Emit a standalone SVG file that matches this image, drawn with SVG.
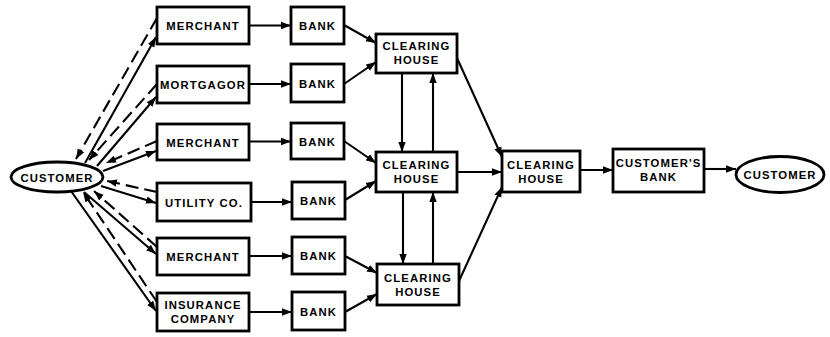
<svg xmlns="http://www.w3.org/2000/svg" width="830" height="337" viewBox="0 0 830 337">
  <style>
    .box { fill: #fff; stroke: #000; stroke-width: 2.8; }
    .lbl { font-family: "Liberation Sans", Arial, sans-serif; font-weight: bold; font-size: 11.3px; letter-spacing: 1.1px; fill: #000; text-anchor: middle; dominant-baseline: central; }
    .ln { fill: none; stroke: #000; stroke-width: 2.1; marker-end: url(#ah); }
    .dash { fill: none; stroke: #000; stroke-width: 2.1; stroke-dasharray: 13 6; marker-end: url(#ah); }
  </style>
  <defs>
    <marker id="ah" markerUnits="userSpaceOnUse" markerWidth="11" markerHeight="9" refX="10" refY="4.5" orient="auto">
      <path d="M0,0.8 L10,4.5 L0,8.2 Z" fill="#000"/>
    </marker>
  </defs>
  <rect width="830" height="337" fill="#fff"/>

  <g id="connectors">
    <!-- customer to payees (solid) and back (dashed) -->
    <path class="dash" d="M157,18 L76,159"/>
    <path class="ln" d="M85,163 L156,37"/>
    <path class="dash" d="M157,84 L89,160"/>
    <path class="ln" d="M97,166 L156,97"/>
    <path class="dash" d="M157,141 L106,163"/>
    <path class="ln" d="M103,171 L156,151"/>
    <path class="dash" d="M157,192 L107,181"/>
    <path class="ln" d="M101,186 L156,203"/>
    <path class="dash" d="M157,247 L94,191"/>
    <path class="ln" d="M84,192 L156,254"/>
    <path class="dash" d="M157,302 L83,192"/>
    <path class="ln" d="M71,191 L156,311"/>
    <!-- payees to banks -->
    <path class="ln" d="M249,25.5 L291,25.5"/>
    <path class="ln" d="M249,84 L291,84"/>
    <path class="ln" d="M249,141.5 L291,141.5"/>
    <path class="ln" d="M251,202 L292,202"/>
    <path class="ln" d="M249,256 L292,256"/>
    <path class="ln" d="M249,312 L292,312"/>
    <!-- banks to clearing houses -->
    <path class="ln" d="M344,25 L376,43"/>
    <path class="ln" d="M344,84 L376,62"/>
    <path class="ln" d="M344,141 L376,163"/>
    <path class="ln" d="M345,200 L376,181"/>
    <path class="ln" d="M345,256 L377,273"/>
    <path class="ln" d="M345,312 L377,294"/>
    <!-- between clearing houses -->
    <path class="ln" d="M402,73 L402,152"/>
    <path class="ln" d="M433,152 L433,73"/>
    <path class="ln" d="M403,192 L403,264"/>
    <path class="ln" d="M433,264 L433,192"/>
    <!-- to central clearing house -->
    <path class="ln" d="M457,58 L502,157"/>
    <path class="ln" d="M457,172 L502,172"/>
    <path class="ln" d="M459,281 L502,187"/>
    <!-- to customer's bank and customer -->
    <path class="ln" d="M580,170 L613,170"/>
    <path class="ln" d="M704,169 L736,169"/>
  </g>

  <g id="customer-left">
    <ellipse class="box" cx="57" cy="177" rx="46" ry="15"/>
    <text class="lbl" x="57" y="177.5">CUSTOMER</text>
  </g>

  <g id="merchant-1">
    <rect class="box" x="157" y="7" width="92" height="37"/>
    <text class="lbl" x="203" y="26">MERCHANT</text>
  </g>
  <g id="mortgagor">
    <rect class="box" x="157" y="66" width="92" height="37"/>
    <text class="lbl" x="203" y="85">MORTGAGOR</text>
  </g>
  <g id="merchant-2">
    <rect class="box" x="157" y="124" width="92" height="36"/>
    <text class="lbl" x="203" y="142.5">MERCHANT</text>
  </g>
  <g id="utility">
    <rect class="box" x="157" y="183" width="94" height="38"/>
    <text class="lbl" x="204" y="202.5">UTILITY CO.</text>
  </g>
  <g id="merchant-3">
    <rect class="box" x="157" y="238" width="92" height="37"/>
    <text class="lbl" x="203" y="256.5">MERCHANT</text>
  </g>
  <g id="insurance">
    <rect class="box" x="157" y="293" width="92" height="38"/>
    <text class="lbl" x="203" y="305">INSURANCE</text>
    <text class="lbl" x="203" y="319">COMPANY</text>
  </g>

  <g id="bank-1"><rect class="box" x="291" y="7" width="53" height="37"/><text class="lbl" x="317.5" y="26">BANK</text></g>
  <g id="bank-2"><rect class="box" x="291" y="64" width="53" height="38"/><text class="lbl" x="317.5" y="83.5">BANK</text></g>
  <g id="bank-3"><rect class="box" x="291" y="123" width="53" height="36"/><text class="lbl" x="317.5" y="141.5">BANK</text></g>
  <g id="bank-4"><rect class="box" x="292" y="182" width="53" height="37"/><text class="lbl" x="318.5" y="201">BANK</text></g>
  <g id="bank-5"><rect class="box" x="292" y="237" width="53" height="37"/><text class="lbl" x="318.5" y="256">BANK</text></g>
  <g id="bank-6"><rect class="box" x="292" y="292" width="53" height="38"/><text class="lbl" x="318.5" y="311.5">BANK</text></g>

  <g id="clearing-house-1">
    <rect class="box" x="376" y="34" width="81" height="39"/>
    <text class="lbl" x="416.5" y="46">CLEARING</text>
    <text class="lbl" x="416.5" y="60">HOUSE</text>
  </g>
  <g id="clearing-house-2">
    <rect class="box" x="376" y="152" width="81" height="40"/>
    <text class="lbl" x="416.5" y="165">CLEARING</text>
    <text class="lbl" x="416.5" y="179">HOUSE</text>
  </g>
  <g id="clearing-house-3">
    <rect class="box" x="377" y="264" width="82" height="41"/>
    <text class="lbl" x="418" y="277.5">CLEARING</text>
    <text class="lbl" x="418" y="291.5">HOUSE</text>
  </g>
  <g id="clearing-house-4">
    <rect class="box" x="502" y="151" width="78" height="41"/>
    <text class="lbl" x="541" y="164.5">CLEARING</text>
    <text class="lbl" x="541" y="178.5">HOUSE</text>
  </g>
  <g id="customers-bank">
    <rect class="box" x="613" y="149" width="91" height="43"/>
    <text class="lbl" x="658.5" y="162.5">CUSTOMER'S</text>
    <text class="lbl" x="658.5" y="177">BANK</text>
  </g>
  <g id="customer-right">
    <ellipse class="box" cx="780" cy="174.5" rx="44" ry="18"/>
    <text class="lbl" x="780" y="175">CUSTOMER</text>
  </g>
</svg>
